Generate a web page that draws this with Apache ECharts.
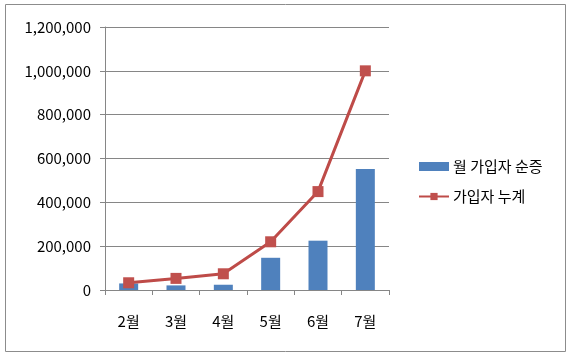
<!DOCTYPE html>
<html><head><meta charset="utf-8">
<script src="https://cdn.jsdelivr.net/npm/echarts@6/dist/echarts.min.js"></script>
<style>html,body{margin:0;padding:0;background:#fff}#c{width:574px;height:357px}</style>
</head><body><div id="c"></div>
<script>
const categories = ['2월','3월','4월','5월','6월','7월'];
const monthlyNet = [30000, 21000, 24000, 147000, 225000, 552000];
const cumulative = [33000, 53000, 74000, 220000, 449000, 1000000];
const yTicks = [0, 200000, 400000, 600000, 800000, 1000000, 1200000];
const font = '"Noto Sans CJK KR", "Noto Sans", sans-serif';
const chart = echarts.init(document.getElementById('c'));
chart.setOption({
  animation: false,
  graphic: [{type:'rect', shape:{x:5.5,y:4.5,width:560,height:347}, style:{fill:'none', stroke:'#8c8c8c', lineWidth:1}, silent:true}],
  grid: {left:105, top:27, width:284, height:263, containLabel:false},
  legend: {
    orient:'vertical', left:413, top:154, itemGap:15, itemWidth:30, itemHeight:9,
    textStyle:{fontFamily:font, fontSize:15, color:'#000', padding:[0,0,0,-1]},
    data:[{name:'월 가입자 순증', icon:'rect'}, {name:'가입자 누계'}]
  },
  xAxis: {
    type:'category', data:categories,
    axisLine:{lineStyle:{color:'#868686'}},
    axisTick:{show:true, length:5, inside:false, alignWithLabel:false, lineStyle:{color:'#868686'}},
    axisLabel:{fontFamily:font, fontSize:15, color:'#000', margin:24}
  },
  yAxis: {
    type:'value', min:0, max:1200000, interval:200000,
    axisLine:{show:true, lineStyle:{color:'#868686'}},
    axisTick:{show:true, length:5, lineStyle:{color:'#868686'}},
    splitLine:{lineStyle:{color:'#868686'}},
    axisLabel:{fontFamily:font, fontSize:15, color:'#000', margin:14,
      formatter: v => v.toLocaleString('en-US')}
  },
  series: [
    {name:'월 가입자 순증', type:'bar', data:monthlyNet, barWidth:19,
     itemStyle:{color:'#4F81BD'}},
    {name:'가입자 누계', type:'line', data:cumulative, symbol:'rect', symbolSize:11,
     lineStyle:{color:'#BE4B48', width:3}, itemStyle:{color:'#C0504D'}}
  ]
});
</script></body></html>
